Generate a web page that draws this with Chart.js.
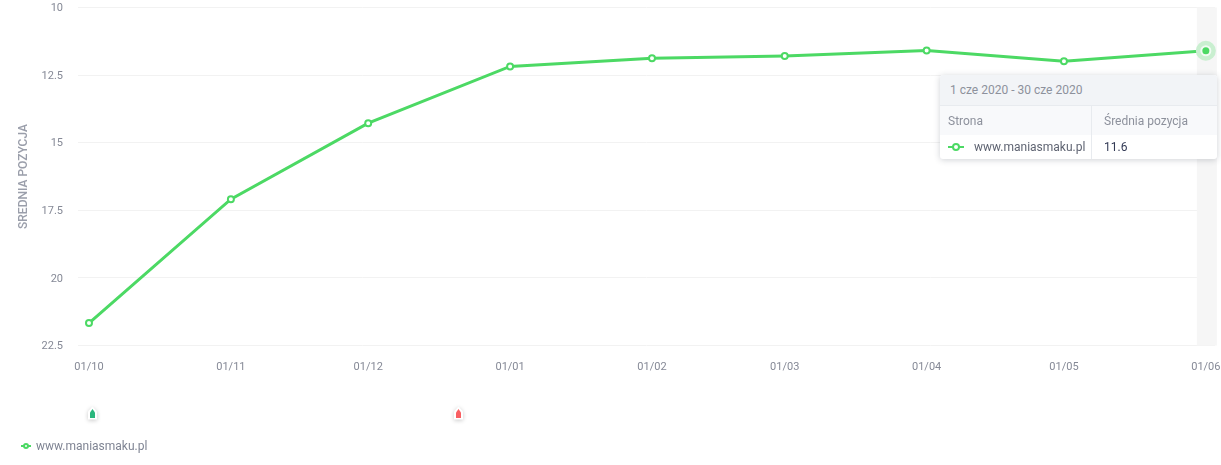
<!DOCTYPE html>
<html lang="pl">
<head>
<meta charset="utf-8">
<title>Średnia pozycja</title>
<script src="https://cdn.jsdelivr.net/npm/chart.js@4"></script>
<style>
  html, body { margin: 0; padding: 0; background: #fff; font-family: Roboto, sans-serif; }
  #wrap { position: relative; width: 1221px; height: 465px; overflow: hidden; }
  canvas { display: block; }
  .ic { position: absolute; width: 16px; height: 2px; background: #4cd964; }
  .ic::after { content: ''; position: absolute; left: 4px; top: -3px; width: 4px; height: 4px;
    background: #fff; border: 2px solid #4cd964; border-radius: 50%; }
  #legenda { position: absolute; left: 36px; top: 438px; font-size: 12px; line-height: 16px; color: #7f8493; }
  #legenda .ic { left: -15px; top: 7px; width: 10px; }
  #legenda .ic::after { left: 2px; top: -2px; width: 2px; height: 2px; }
  #tip { position: absolute; left: 940px; top: 75px; width: 277px; height: 84px; background: #fff;
    border-radius: 3px; box-shadow: 0 1px 6px rgba(40,50,70,.22); font-size: 12px; color: #8d919c; overflow: hidden; }
  #tip div { position: absolute; white-space: nowrap; }
  #tip-head { left: 0; top: 0; width: 277px; height: 30px; background: #f2f4f7; border-bottom: 1px solid #e8ebef; line-height: 30px; text-indent: 10px; }
  #tip-sub { left: 0; top: 31px; width: 277px; height: 29px; background: #f8f9fb; line-height: 31px; }
  #tip-col { left: 151px; top: 31px; width: 1px; height: 53px; background: #e8ebef; }
  #tip-site { left: 34px; top: 60px; line-height: 24px; color: #5f6472; }
  #tip-val { left: 164px; top: 60px; line-height: 24px; color: #333a55; }
</style>
</head>
<body>
<div id="wrap">
  <canvas id="chart" width="1221" height="465"></canvas>
  <div id="legenda"><span class="ic"></span><span id="legenda-txt"></span></div>
  <div id="tip">
    <div id="tip-head"></div>
    <div id="tip-sub">
      <div id="tip-a" style="left:8px"></div>
      <div id="tip-b" style="left:164px"></div>
    </div>
    <div id="tip-col"></div>
    <div class="ic" style="left:8px;top:71px"></div>
    <div id="tip-site"></div>
    <div id="tip-val"></div>
  </div>
</div>
<script>
'use strict';

const strona = 'www.maniasmaku.pl';
const etykietyX = ['01/10', '01/11', '01/12', '01/01', '01/02', '01/03', '01/04', '01/05', '01/06'];
// dni od 1 paź 2019, oś jest proporcjonalna do czasu
const dni = [0, 31, 61, 92, 123, 152, 183, 213, 244];
const pozycje = [21.67, 17.09, 14.28, 12.18, 11.88, 11.79, 11.59, 11.99, 11.6];
const znacznikiDni = [0.7, 80.7];
const znacznikiKolory = ['#2bb67d', '#f95f62'];
const zakresTooltip = '1 cze 2020 - 30 cze 2020';
const kolumnyTooltip = ['Strona', 'Średnia pozycja'];

const ZIELONY = '#4cd964';
const SZARY = '#858996';

// bez dodatkowego miejsca na połowę etykiet, pole wykresu ma sięgać krawędzi
const bezPaddingu = s => { s.paddingTop = s.paddingBottom = s.paddingLeft = s.paddingRight = 0; };

// Pas podświetlenia, poświata punktu i znaczniki pod osią
const dodatki = {
  id: 'dodatki',
  beforeDatasetsDraw(chart) {
    const { ctx, chartArea: a, scales: { x } } = chart;
    const px = x.getPixelForValue(dni[dni.length - 1]);
    ctx.save();
    ctx.fillStyle = '#f6f6f6';
    ctx.fillRect(px - 9, a.top, 20, a.bottom - a.top);
    ctx.restore();
  },
  afterDatasetsDraw(chart) {
    const { ctx, scales: { x } } = chart;
    const ost = chart.getDatasetMeta(0).data[dni.length - 1];
    ctx.save();
    ctx.beginPath();
    ctx.arc(ost.x, ost.y, 10, 0, Math.PI * 2);
    ctx.fillStyle = '#c9efd0';
    ctx.fill();
    ctx.beginPath();
    ctx.arc(ost.x, ost.y, 5.5, 0, Math.PI * 2);
    ctx.fillStyle = '#f1fbf3';
    ctx.fill();
    ctx.beginPath();
    ctx.arc(ost.x, ost.y, 3.5, 0, Math.PI * 2);
    ctx.fillStyle = ZIELONY;
    ctx.fill();

    znacznikiDni.forEach((d, i) => {
      const mx = Math.round(x.getPixelForValue(d)) + 0.5;
      ctx.save();
      ctx.shadowColor = 'rgba(0,0,0,.22)';
      ctx.shadowBlur = 4;
      ctx.shadowOffsetY = 1;
      ctx.fillStyle = '#fff';
      ctx.beginPath();
      ctx.moveTo(mx, 406.5);
      ctx.lineTo(mx + 4.5, 411.5);
      ctx.lineTo(mx + 4.5, 419.5);
      ctx.lineTo(mx - 4.5, 419.5);
      ctx.lineTo(mx - 4.5, 411.5);
      ctx.closePath();
      ctx.fill();
      ctx.restore();
      ctx.fillStyle = znacznikiKolory[i];
      ctx.beginPath();
      ctx.moveTo(mx, 409);
      ctx.lineTo(mx + 2.5, 412.5);
      ctx.lineTo(mx + 2.5, 418);
      ctx.lineTo(mx - 2.5, 418);
      ctx.lineTo(mx - 2.5, 412.5);
      ctx.closePath();
      ctx.fill();
    });
    ctx.restore();
  },
};

new Chart(document.getElementById('chart'), {
  type: 'line',
  data: {
    datasets: [{
      label: strona,
      data: dni.map((d, i) => ({ x: d, y: pozycje[i] })),
      borderColor: ZIELONY,
      borderWidth: 3,
      tension: 0,
      pointRadius: 3,
      pointBackgroundColor: '#fff',
      pointBorderColor: ZIELONY,
      pointBorderWidth: 2,
    }],
  },
  options: {
    responsive: false,
    animation: false,
    layout: { padding: { top: 7.5, right: 2 } },
    plugins: { legend: { display: false }, tooltip: { enabled: false } },
    scales: {
      x: {
        type: 'linear',
        min: -2.4,
        max: 246,
        afterBuildTicks: s => { s.ticks = dni.map(d => ({ value: d })); },
        afterFit: s => { s.height = 119.5; bezPaddingu(s); },
        grid: { display: false },
        border: { display: false },
        ticks: {
          maxRotation: 0,
          autoSkip: false,
          padding: 7,
          color: SZARY,
          font: { family: 'Roboto', size: 11 },
          callback: v => etykietyX[dni.indexOf(v)],
        },
      },
      y: {
        reverse: true,
        min: 10,
        max: 22.5,
        afterFit: s => { s.width = 78; bezPaddingu(s); },
        grid: { color: '#f2f2f2', drawTicks: false },
        border: { display: false },
        ticks: {
          stepSize: 2.5,
          padding: 15,
          labelOffset: 1,
          color: SZARY,
          font: { family: 'Roboto', size: 11 },
        },
        title: {
          display: true,
          text: 'SREDNIA POZYCJA',
          color: '#9a9eaa',
          padding: { top: 17, bottom: 0 },
          font: { family: 'Roboto', size: 12, weight: '500' },
        },
      },
    },
  },
  plugins: [dodatki],
});

document.getElementById('legenda-txt').textContent = strona;
document.getElementById('tip-head').textContent = zakresTooltip;
document.getElementById('tip-a').textContent = kolumnyTooltip[0];
document.getElementById('tip-b').textContent = kolumnyTooltip[1];
document.getElementById('tip-site').textContent = strona;
document.getElementById('tip-val').textContent = pozycje[pozycje.length - 1];
</script>
</body>
</html>
